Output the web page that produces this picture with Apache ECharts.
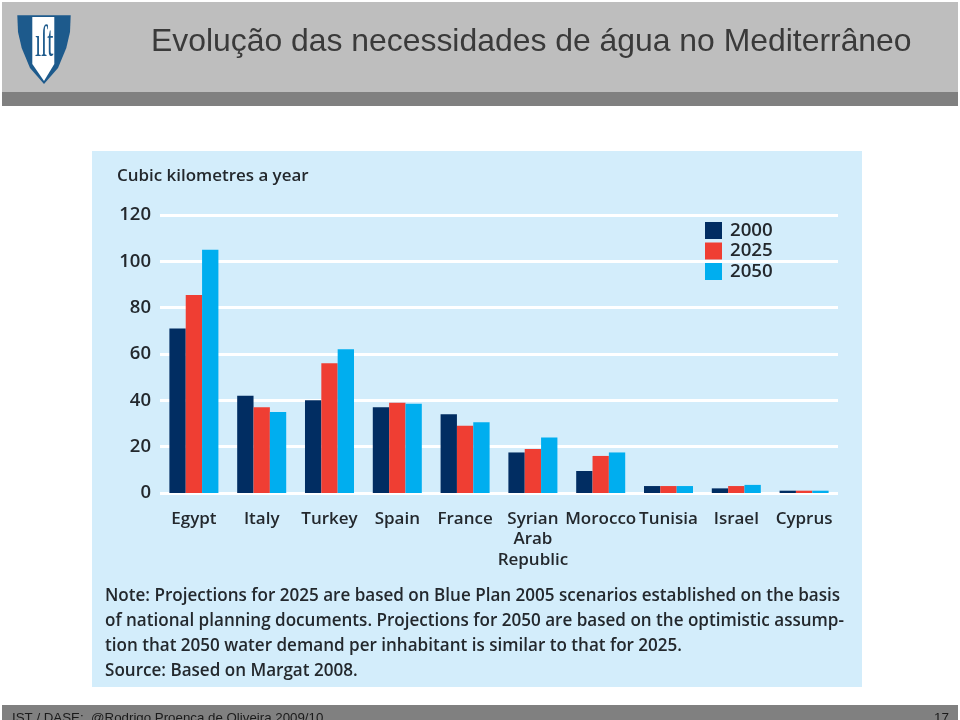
<!DOCTYPE html>
<html><head><meta charset="utf-8">
<style>html,body{margin:0;padding:0;background:#fff}#c{width:960px;height:720px}</style>
<script src="https://cdn.jsdelivr.net/npm/echarts@6/dist/echarts.min.js"></script>
</head><body><div id="c"></div>
<script>
const categories = ['Egypt','Italy','Turkey','Spain','France','Syrian\nArab\nRepublic','Morocco','Tunisia','Israel','Cyprus'];
const values2000 = [71,42,40,37,34,17.5,9.5,3,2,1];
const values2025 = [85.5,37,56,39,29,19,16,3,3,1];
const values2050 = [105,35,62,38.5,30.5,24,17.5,3,3.5,1];
const titleText = 'Evolução das necessidades de água no Mediterrâneo';
const unitText = 'Cubic kilometres a year';
const noteLines = [
 'Note: Projections for 2025 are based on Blue Plan 2005 scenarios established on the basis',
 'of national planning documents. Projections for 2050 are based on the optimistic assump-',
 'tion that 2050 water demand per inhabitant is similar to that for 2025.',
 'Source: Based on Margat 2008.'
];
const footerText = 'IST / DASE:  @Rodrigo Proença de Oliveira 2009/10';
const pageText = '17';
const navy='#012d62', red='#ef3e33', cyan='#00aeef', ink='#23282d', pale='#d3edfb';
const labelFont='"Open Sans"';
const chart = echarts.init(document.getElementById('c'),null,{renderer:'canvas'});
const rect=(x,y,w,h,fill,z)=>({type:'rect',silent:true,z:z||-10,shape:{x,y,width:w,height:h},style:{fill}});
const txt=(x,y,text,o,extra)=>Object.assign({type:'text',silent:true,z:5,x,y,style:Object.assign({text,fill:ink,font:'600 17px '+labelFont,textVerticalAlign:'middle'},o||{})},extra||{});
const shieldOuter=[[17.3,15.3],[70.7,15.3],[70,32],[66.3,48],[58,68],[44,84],[30,68],[21.7,48],[18,32]];
const shieldInner=[[32.3,17],[54.3,17],[54.3,64],[44,81],[32.3,64]];
const noteFont='600 17.07px '+labelFont;
const graphics=[
 rect(2,2,956,90,'#bebebe'),
 rect(2,92,956,14,'#808080'),
 rect(92,151,770,536,pale),
 rect(2,705,956,15,'#808080'),
 {type:'polygon',silent:true,z:2,shape:{points:shieldOuter},style:{fill:'#1d5a8c'}},
 {type:'polygon',silent:true,z:3,shape:{points:shieldInner},style:{fill:'#ffffff'}},
 txt(35,44,'ıſt',{font:'22px "Liberation Serif"',fill:'#1d5a8c'},{scaleY:2}),
 txt(151,42,titleText,{font:'31.9px "Liberation Sans"',fill:'#3a3a3a'}),
 txt(117,176.5,unitText,{font:'600 16.95px '+labelFont}),
 txt(105,596,noteLines[0],{font:noteFont}),
 txt(105,621,noteLines[1],{font:noteFont}),
 txt(105,646,noteLines[2],{font:noteFont}),
 txt(105,671,noteLines[3],{font:noteFont}),
 txt(12,718.5,footerText,{font:'13.3px "Liberation Sans"',fill:'#1a1a1a'}),
 txt(949,718.5,pageText,{font:'13.5px "Liberation Sans"',fill:'#1a1a1a',textAlign:'right'})
];
const mk=(name,data,color)=>({name,type:'bar',data,barGap:0,barCategoryGap:'27.7%',itemStyle:{color},z:3,animation:false});
chart.setOption({
 animation:false,
 backgroundColor:'#ffffff',
 graphic:{elements:graphics},
 grid:{left:160,right:122,top:215,bottom:227,containLabel:false},
 legend:{left:705,top:221,padding:0,orient:'vertical',icon:'rect',itemWidth:17,itemHeight:17,itemGap:1.5,selectedMode:false,
   textStyle:{color:ink,fontFamily:labelFont,fontWeight:600,fontSize:18.7,lineHeight:17,padding:[0,0,0,3]},data:['2000','2025','2050']},
 xAxis:{type:'category',data:categories,axisLine:{show:false},axisTick:{show:false},
   axisLabel:{interval:0,color:ink,fontFamily:labelFont,fontWeight:600,fontSize:17,lineHeight:20.5,margin:15.5,verticalAlign:'top'}},
 yAxis:{type:'value',min:0,max:120,interval:20,axisLine:{show:false},axisTick:{show:false},
   axisLabel:{color:ink,fontFamily:labelFont,fontWeight:600,fontSize:18.5,margin:9},
   splitLine:{lineStyle:{color:'#ffffff',width:3}}},
 series:[mk('2000',values2000,navy),mk('2025',values2025,red),mk('2050',values2050,cyan)]
});
</script></body></html>
